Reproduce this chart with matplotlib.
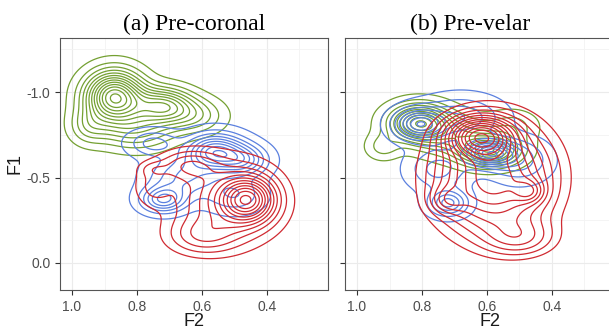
import numpy as np
import matplotlib
matplotlib.use('Agg')
import matplotlib.pyplot as plt
from matplotlib.ticker import MultipleLocator

# blob parameters: centre (F2, F1), spread (sx, sy), weight
# panel (a) Pre-coronal
a_green_cx = [0.87, 0.72, 0.62, 0.80, 0.95]
a_green_cy = [-0.97, -0.92, -0.86, -0.78, -0.80]
a_green_sx = [0.06, 0.06, 0.06, 0.08, 0.04]
a_green_sy = [0.10, 0.07, 0.07, 0.08, 0.07]
a_green_w = [1.0, 0.6, 0.25, 0.3, 0.2]

a_blue_cx = [0.56, 0.47, 0.72, 0.66, 0.75, 0.50]
a_blue_cy = [-0.65, -0.60, -0.37, -0.50, -0.70, -0.40]
a_blue_sx = [0.06, 0.05, 0.045, 0.07, 0.05, 0.06]
a_blue_sy = [0.07, 0.06, 0.05, 0.08, 0.05, 0.07]
a_blue_w = [0.8, 0.45, 0.55, 0.35, 0.3, 0.25]

a_red_cx = [0.46, 0.52, 0.64, 0.60, 0.75, 0.75]
a_red_cy = [-0.37, -0.36, -0.57, -0.16, -0.45, -0.55]
a_red_sx = [0.05, 0.10, 0.06, 0.07, 0.04, 0.03]
a_red_sy = [0.08, 0.15, 0.06, 0.07, 0.08, 0.03]
a_red_w = [1.0, 0.45, 0.28, 0.25, 0.15, 0.1]

# panel (b) Pre-velar
b_green_cx = [0.81, 0.59, 0.70, 0.92, 0.52]
b_green_cy = [-0.82, -0.66, -0.74, -0.68, -0.80]
b_green_sx = [0.06, 0.06, 0.08, 0.035, 0.05]
b_green_sy = [0.07, 0.06, 0.08, 0.05, 0.06]
b_green_w = [1.0, 0.9, 0.4, 0.2, 0.2]

b_blue_cx = [0.81, 0.59, 0.72, 0.68, 0.50, 0.75]
b_blue_cy = [-0.81, -0.64, -0.35, -0.85, -0.60, -0.55]
b_blue_sx = [0.05, 0.05, 0.04, 0.08, 0.06, 0.06]
b_blue_sy = [0.06, 0.05, 0.05, 0.08, 0.08, 0.08]
b_blue_w = [0.7, 0.8, 0.5, 0.35, 0.3, 0.3]

b_red_cx = [0.58, 0.62, 0.47, 0.72, 0.50]
b_red_cy = [-0.50, -0.74, -0.42, -0.37, -0.15]
b_red_sx = [0.11, 0.06, 0.03, 0.035, 0.07]
b_red_sy = [0.20, 0.07, 0.045, 0.05, 0.07]
b_red_w = [0.5, 0.7, 0.22, 0.15, 0.15]

titles = ['(a) Pre-coronal', '(b) Pre-velar']
GREEN = '#74a032'
BLUE = '#5b80df'
RED = '#d02b32'

gx = np.linspace(1.1, 0.15, 300)
gy = np.linspace(-1.35, 0.2, 300)
X, Y = np.meshgrid(gx, gy)


def density(cx, cy, sx, sy, w):
    z = np.zeros_like(X)
    for i in range(len(cx)):
        z += w[i] * np.exp(-0.5 * (((X - cx[i]) / sx[i]) ** 2 + ((Y - cy[i]) / sy[i]) ** 2))
    return z


def draw(ax, groups):
    for z, col, n, g in groups:
        zmax = z.max()
        t = np.linspace(0.05 ** (1 / g), 0.97, n)
        ax.contour(X, Y, z, levels=t ** g * zmax, colors=col, linewidths=0.9)


fig = plt.figure(figsize=(6.09, 3.32), dpi=100)
W, H = 609, 332
ax_a = fig.add_axes([60 / W, 42 / H, 268 / W, 252 / H])
ax_b = fig.add_axes([345 / W, 42 / H, 268 / W, 252 / H])

draw(ax_a, [
    (density(a_green_cx, a_green_cy, a_green_sx, a_green_sy, a_green_w), GREEN, 13, 1.0),
    (density(a_blue_cx, a_blue_cy, a_blue_sx, a_blue_sy, a_blue_w), BLUE, 9, 1.0),
    (density(a_red_cx, a_red_cy, a_red_sx, a_red_sy, a_red_w), RED, 12, 1.35),
])
draw(ax_b, [
    (density(b_green_cx, b_green_cy, b_green_sx, b_green_sy, b_green_w), GREEN, 11, 1.0),
    (density(b_blue_cx, b_blue_cy, b_blue_sx, b_blue_sy, b_blue_w), BLUE, 9, 1.0),
    (density(b_red_cx, b_red_cy, b_red_sx, b_red_sy, b_red_w), RED, 13, 1.6),
])

for ax in (ax_a, ax_b):
    ax.set_xlim(1.037, 0.212)
    ax.set_ylim(0.158, -1.316)
    ax.xaxis.set_minor_locator(MultipleLocator(0.1))
    ax.yaxis.set_minor_locator(MultipleLocator(0.25))
    ax.grid(True, which='major', color='#ebebeb', lw=0.8)
    ax.grid(True, which='minor', color='#f3f3f3', lw=0.6)
    ax.set_axisbelow(True)
    ax.tick_params(which='major', direction='out', length=3.5, width=0.8,
                   color='#333333', labelsize=10, labelcolor='#4d4d4d')
    ax.tick_params(which='minor', length=0)
    for s in ax.spines.values():
        s.set_color('#555555')
        s.set_linewidth(0.8)
    ax.set_xticks([1.0, 0.8, 0.6, 0.4])
    ax.set_xticklabels(['1.0', '0.8', '0.6', '0.4'], family='Liberation Sans')
    ax.set_yticks([-1.0, -0.5, 0.0])

ax_a.set_yticklabels(['-1.0', '-0.5', '0.0'], family='Liberation Sans')
ax_b.set_yticklabels([])

fig.text(194 / W, 1 - 24 / H, titles[0], ha='center', va='center',
         family='Liberation Serif', fontsize=17)
fig.text(470 / W, 1 - 24 / H, titles[1], ha='center', va='center',
         family='Liberation Serif', fontsize=17)
fig.text(194 / W, 1 - 321 / H, 'F2', ha='center', va='center', fontsize=13,
         family='Liberation Sans', color='#1a1a1a')
fig.text(490 / W, 1 - 321 / H, 'F2', ha='center', va='center', fontsize=13,
         family='Liberation Sans', color='#1a1a1a')
fig.text(15 / W, 1 - 163 / H, 'F1', ha='center', va='center', rotation=90,
         fontsize=13, family='Liberation Sans', color='#1a1a1a')

fig.savefig('out.png', dpi=100)
